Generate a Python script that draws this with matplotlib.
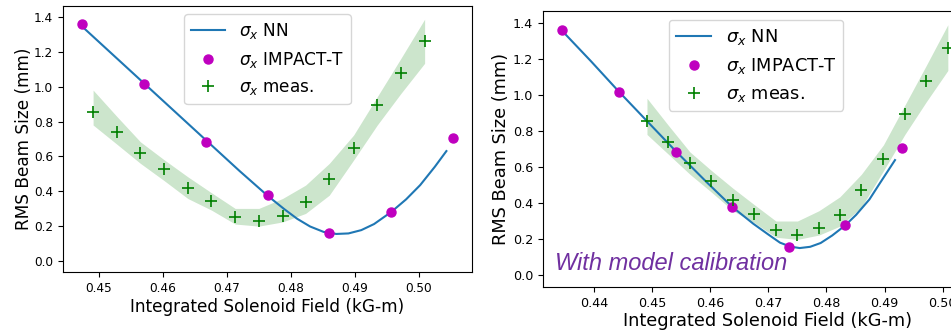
import matplotlib
matplotlib.use("Agg")
import matplotlib.pyplot as plt
import numpy as np

# measured beam size (same in both panels)
meas_x = [0.4491, 0.4528, 0.4565, 0.4602, 0.4639, 0.4676, 0.4713, 0.4750,
          0.4787, 0.4823, 0.4860, 0.4898, 0.4935, 0.4972, 0.5009]
meas_y = [0.855, 0.739, 0.620, 0.524, 0.419, 0.340, 0.248, 0.225,
          0.259, 0.336, 0.472, 0.645, 0.895, 1.079, 1.262]
meas_hi = [0.981, 0.830, 0.683, 0.580, 0.482, 0.390, 0.300, 0.300,
           0.357, 0.434, 0.559, 0.722, 0.943, 1.164, 1.389]
meas_lo = [0.780, 0.670, 0.559, 0.460, 0.357, 0.290, 0.210, 0.198,
           0.222, 0.271, 0.376, 0.578, 0.780, 0.962, 1.135]

# IMPACT-T simulation points
imp_y = [1.360, 1.016, 0.684, 0.376, 0.157, 0.280, 0.703]
imp_x_left = [0.4473, 0.4570, 0.4667, 0.4764, 0.4860, 0.4957, 0.5054]
imp_x_right = [0.4345, 0.4442, 0.4541, 0.4638, 0.4735, 0.4832, 0.4930]

# NN prediction, before calibration
nn_x_left = [0.4473, 0.4570, 0.4667, 0.4720, 0.4764, 0.4790, 0.4810, 0.4830,
             0.4851, 0.4871, 0.4890, 0.4910, 0.4930, 0.4957, 0.4980, 0.5002,
             0.5025, 0.5043]
nn_y_left = [1.350, 1.022, 0.694, 0.515, 0.372, 0.295, 0.240, 0.196,
             0.165, 0.153, 0.156, 0.175, 0.210, 0.280, 0.352, 0.434,
             0.540, 0.630]

# NN prediction, with model calibration
nn_x_right = [0.4347, 0.4395, 0.4442, 0.4490, 0.4541, 0.4593, 0.4638, 0.4674,
              0.4700, 0.4720, 0.4738, 0.4754, 0.4772, 0.4790, 0.4810, 0.4832,
              0.4851, 0.4874, 0.4891, 0.4918]
nn_y_right = [1.348, 1.185, 1.020, 0.858, 0.686, 0.518, 0.378, 0.285,
              0.225, 0.180, 0.158, 0.150, 0.157, 0.178, 0.220, 0.275,
              0.334, 0.420, 0.505, 0.638]

W, H = 951, 331
fig = plt.figure(figsize=(W / 100, H / 100), dpi=100)


def draw(ax, nn_x, nn_y, imp_x, fs_tick, fs_lab, ypad):
    ax.fill_between(meas_x, meas_lo, meas_hi, color='g', alpha=0.2, lw=0)
    ax.plot(nn_x, nn_y, '-', color='#1f77b4', lw=1.5, label=r'$\sigma_x$ NN')
    ax.plot(imp_x, imp_y, 'o', color='m', ms=6.5, label=r'$\sigma_x$ IMPACT-T')
    ax.plot(meas_x, meas_y, '+', color='g', ms=8, mew=1.2,
            label=r'$\sigma_x$ meas.')
    ax.set_ylim(-0.066, 1.465)
    ax.set_yticks([0.0, 0.2, 0.4, 0.6, 0.8, 1.0, 1.2, 1.4])
    ax.tick_params(labelsize=fs_tick)
    ax.set_xlabel('Integrated Solenoid Field (kG-m)', fontsize=fs_lab, labelpad=2)
    ax.set_ylabel('RMS Beam Size (mm)', fontsize=fs_lab, labelpad=ypad)


# left panel
ax1 = fig.add_axes([63 / W, (H - 272) / H, 409 / W, 266 / H])
draw(ax1, nn_x_left, nn_y_left, imp_x_left, 8.7, 12.2, 1)
ax1.set_xlim(0.4444, 0.5083)
ax1.set_xticks([0.45, 0.46, 0.47, 0.48, 0.49, 0.50])
ax1.set_xticklabels(['0.45', '0.46', '0.47', '0.48', '0.49', '0.50'])
ax1.legend(loc='upper center', fontsize=12.2)

# right panel (cut off at the figure edge)
ax2 = fig.add_axes([543 / W, (H - 287) / H, 449 / W, 276 / H])
draw(ax2, nn_x_right, nn_y_right, imp_x_right, 9.2, 12.8, 2)
ax2.set_xlim(0.4312, 0.5085)
ax2.set_xticks([0.44, 0.45, 0.46, 0.47, 0.48, 0.49, 0.50])
ax2.set_xticklabels(['0.44', '0.45', '0.46', '0.47', '0.48', '0.49', '0.50'])
ax2.legend(loc='upper left', bbox_to_anchor=(0.26, 1.0), fontsize=12.8)
ax2.text(0.4333, 0.03, 'With model calibration', color='#7030a0',
         fontsize=17, style='italic', family='Liberation Sans', va='baseline')

fig.savefig('out.png', dpi=100)
